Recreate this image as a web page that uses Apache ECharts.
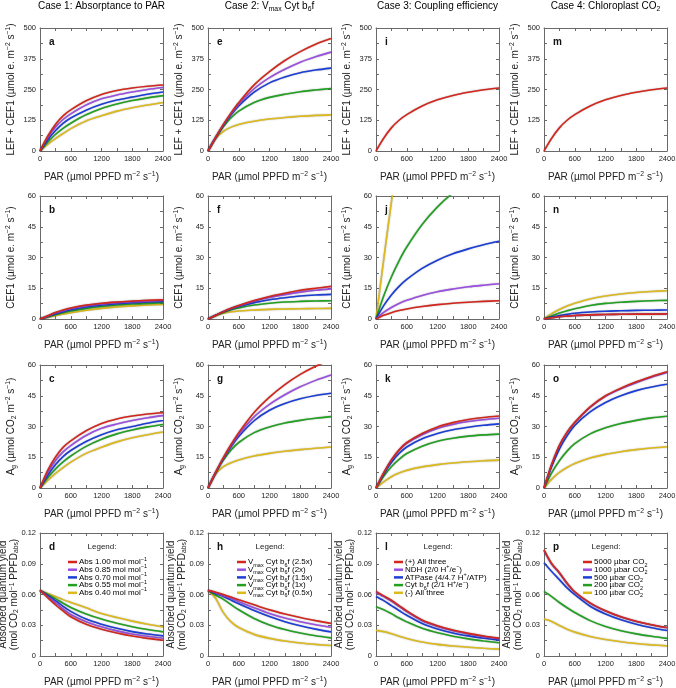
<!DOCTYPE html>
<html>
<head>
<meta charset="utf-8">
<script src="https://cdn.jsdelivr.net/npm/echarts@6/dist/echarts.min.js"></script>
<style>
  html, body { margin: 0; padding: 0; background: #fff; }
  #chart { width: 676px; height: 688px; }
</style>
</head>
<body>
<div id="chart"></div>
<script>
// PAR levels (umol PPFD m-2 s-1) the curves were read at
const PAR = [0, 150, 300, 450, 600, 900, 1200, 1500, 1800, 2100, 2400];

// every panel: curves in order red, purple, blue, green, yellow
const aLEF = [
  [0, 60, 108, 143, 167, 204, 230, 246, 256, 263, 268],
  [0, 54, 97, 128, 151, 187, 212, 228, 240, 250, 258],
  [0, 45, 82, 112, 134, 166, 190, 207, 219, 231, 240],
  [0, 36, 67, 92, 113, 147, 173, 191, 205, 216, 225],
  [0, 27, 50, 71, 91, 122, 143, 162, 176, 187, 197]
];
const bCEF = [
  [0, 1.6, 3.2, 4.4, 5.4, 6.8, 7.7, 8.3, 8.8, 9.1, 9.4],
  [0, 1.4, 2.9, 4.0, 5.0, 6.4, 7.3, 7.9, 8.4, 8.7, 9.0],
  [0, 1.2, 2.5, 3.6, 4.5, 5.9, 6.8, 7.5, 8.0, 8.3, 8.6],
  [0, 1.0, 2.1, 3.1, 3.9, 5.2, 6.1, 6.8, 7.3, 7.6, 7.9],
  [0, 0.8, 1.6, 2.4, 3.1, 4.3, 5.2, 5.9, 6.4, 6.8, 7.1]
];
const cAg = [
  [0, 8.6, 15.0, 19.8, 23.0, 27.9, 31.5, 33.7, 35.1, 36.1, 36.7],
  [0, 7.4, 13.3, 17.6, 20.7, 25.6, 29.1, 31.2, 32.9, 34.3, 35.3],
  [0, 6.2, 11.3, 15.3, 18.3, 22.7, 26.0, 28.4, 30.0, 31.6, 32.9],
  [0, 5.0, 9.2, 12.7, 15.6, 20.3, 23.8, 26.4, 28.3, 29.8, 31.0],
  [0, 3.7, 7.0, 9.9, 12.6, 16.9, 19.9, 22.5, 24.5, 26.0, 27.3]
];
const dQY = [
  [0.064, 0.057, 0.050, 0.044, 0.0383, 0.031, 0.0262, 0.0225, 0.0195, 0.0172, 0.0153],
  [0.064, 0.058, 0.052, 0.046, 0.0405, 0.0335, 0.0285, 0.0245, 0.0215, 0.0192, 0.0173],
  [0.064, 0.059, 0.054, 0.0485, 0.0435, 0.036, 0.031, 0.027, 0.0238, 0.0215, 0.0196],
  [0.064, 0.060, 0.056, 0.0515, 0.0474, 0.041, 0.036, 0.032, 0.0286, 0.0258, 0.0235],
  [0.064, 0.061, 0.058, 0.055, 0.0523, 0.047, 0.0415, 0.0375, 0.034, 0.031, 0.0284]
];
const eLEF = [
  [0, 55, 108, 155, 197, 269, 323, 368, 404, 434, 457],
  [0, 55, 106, 151, 190, 253, 298, 332, 361, 383, 402],
  [0, 55, 104, 147, 183, 239, 277, 301, 318, 329, 337],
  [0, 53, 99, 135, 162, 197, 218, 231, 241, 248, 254],
  [0, 51, 80, 97, 108, 121, 130, 136, 141, 145, 147]
];
const fCEF = [
  [0, 1.8, 3.6, 5.2, 6.6, 9.0, 11.0, 12.6, 14.0, 15.0, 15.9],
  [0, 1.8, 3.6, 5.1, 6.4, 8.7, 10.5, 11.9, 13.1, 14.0, 14.7],
  [0, 1.8, 3.5, 4.9, 6.1, 8.0, 9.4, 10.4, 11.2, 11.7, 12.0],
  [0, 1.7, 3.3, 4.5, 5.4, 6.8, 7.7, 8.3, 8.6, 8.8, 8.9],
  [0, 1.6, 2.8, 3.5, 3.9, 4.4, 4.7, 4.9, 5.0, 5.1, 5.2]
];
const gAg = [
  [0, 7.6, 14.8, 21.2, 27.0, 36.8, 44.3, 50.4, 55.4, 59.4, 62.6],
  [0, 7.6, 14.5, 20.7, 26.1, 34.7, 40.8, 45.5, 49.4, 52.5, 55.1],
  [0, 7.5, 14.3, 20.1, 25.1, 32.8, 37.9, 41.2, 43.5, 45.1, 46.2],
  [0, 7.3, 13.6, 18.5, 22.2, 27.0, 29.8, 31.7, 33.0, 34.0, 34.8],
  [0, 6.9, 10.4, 12.3, 13.7, 15.6, 16.9, 17.9, 18.7, 19.4, 20.0]
];
const hQY = [
  [0.064, 0.0622, 0.0600, 0.0575, 0.0549, 0.0499, 0.0450, 0.0410, 0.0375, 0.0345, 0.0318],
  [0.064, 0.0618, 0.0589, 0.0561, 0.0530, 0.0470, 0.0415, 0.0370, 0.0335, 0.0305, 0.0280],
  [0.064, 0.0610, 0.0581, 0.0545, 0.0510, 0.0444, 0.0385, 0.0335, 0.0295, 0.0262, 0.0235],
  [0.064, 0.0593, 0.0553, 0.0501, 0.0451, 0.0366, 0.0303, 0.0258, 0.0224, 0.0197, 0.0177],
  [0.064, 0.0561, 0.0423, 0.0333, 0.0278, 0.0211, 0.0172, 0.0146, 0.0127, 0.0113, 0.0102]
];
// case 3 and 4 electron flow: all curves sit on top of each other
const iLEF = [[0, 52, 94, 125, 148, 183, 208, 226, 239, 249, 256]];
const jCEF = [
  [0, 1.8, 3.1, 4.1, 4.9, 6.1, 7.0, 7.7, 8.2, 8.6, 8.9],
  [0, 3.2, 5.6, 7.6, 9.1, 11.5, 13.3, 14.6, 15.7, 16.5, 17.2],
  [0, 6.5, 11.7, 15.9, 19.3, 24.7, 28.7, 31.8, 34.2, 36.2, 37.9],
  [0, 11.2, 20.5, 28.4, 35.1, 46.1, 54.7, 61.5, 67.0],
  [0, 29, 57, 84]
];
const kAg = [
  [0, 7.4, 13.7, 18.6, 22.2, 26.6, 29.8, 31.9, 33.4, 34.4, 35.1],
  [0, 7.3, 13.5, 18.3, 21.8, 26.0, 29.0, 31.0, 32.4, 33.3, 34.0],
  [0, 6.8, 12.4, 16.8, 20.0, 24.0, 26.6, 28.4, 29.6, 30.6, 31.3],
  [0, 5.7, 10.4, 14.0, 16.8, 20.4, 22.8, 24.3, 25.3, 25.9, 26.3],
  [0, 3.0, 5.5, 7.3, 8.6, 10.3, 11.4, 12.2, 12.8, 13.3, 13.6]
];
const lQY = [
  [0.063, 0.0587, 0.0544, 0.0492, 0.0440, 0.0352, 0.0296, 0.0253, 0.0221, 0.0195, 0.0174],
  [0.062, 0.0579, 0.0536, 0.0484, 0.0433, 0.0344, 0.0288, 0.0246, 0.0214, 0.0189, 0.0169],
  [0.058, 0.0540, 0.0492, 0.0444, 0.0397, 0.0317, 0.0264, 0.0225, 0.0196, 0.0173, 0.0155],
  [0.048, 0.0452, 0.0413, 0.0370, 0.0333, 0.0270, 0.0226, 0.0193, 0.0167, 0.0147, 0.0130],
  [0.025, 0.0238, 0.0218, 0.0193, 0.0171, 0.0136, 0.0113, 0.0097, 0.0085, 0.0075, 0.0067]
];
const mLEF = [[0, 52, 94, 125, 148, 183, 208, 226, 239, 249, 256]];
const nCEF = [
  [0, 0.6, 1.1, 1.4, 1.7, 2.0, 2.2, 2.3, 2.4, 2.4, 2.5],
  [0, 0.6, 1.1, 1.4, 1.7, 2.0, 2.2, 2.3, 2.4, 2.4, 2.5],
  [0, 0.9, 1.7, 2.3, 2.8, 3.4, 3.8, 4.0, 4.2, 4.3, 4.4],
  [0, 1.5, 2.9, 4.0, 5.0, 6.6, 7.6, 8.2, 8.6, 8.9, 9.1],
  [0, 2.6, 4.6, 6.3, 7.7, 9.8, 11.2, 12.2, 12.9, 13.4, 13.8]
];
const oAg = [
  [0, 11.5, 20.8, 27.2, 32.0, 39.6, 45.0, 48.7, 51.8, 54.4, 56.7],
  [0, 11.4, 20.6, 27.0, 31.8, 39.3, 44.7, 48.4, 51.4, 54.0, 56.3],
  [0, 10.5, 19.0, 25.4, 30.5, 37.1, 41.7, 45.0, 47.5, 49.3, 50.6],
  [0, 7.4, 13.3, 18.0, 21.6, 26.4, 29.4, 31.5, 33.0, 34.2, 35.0],
  [0, 4.3, 7.6, 10.0, 11.9, 14.6, 16.4, 17.7, 18.7, 19.5, 20.1]
];
const pQY = [
  [0.1035, 0.0902, 0.0815, 0.0712, 0.0627, 0.0518, 0.0441, 0.0382, 0.0339, 0.0305, 0.0278],
  [0.1030, 0.0894, 0.0808, 0.0706, 0.0624, 0.0514, 0.0438, 0.0380, 0.0336, 0.0303, 0.0276],
  [0.0910, 0.0824, 0.0745, 0.0664, 0.0598, 0.0485, 0.0409, 0.0353, 0.0310, 0.0276, 0.0248],
  [0.0630, 0.0580, 0.0522, 0.0471, 0.0424, 0.0345, 0.0288, 0.0247, 0.0216, 0.0192, 0.0172],
  [0.0360, 0.0337, 0.0298, 0.0261, 0.0233, 0.0191, 0.0161, 0.0139, 0.0122, 0.0109, 0.0099]
];

const panels = [aLEF, bCEF, cAg, dQY, eLEF, fCEF, gAg, hQY, iLEF, jCEF, kAg, lQY, mLEF, nCEF, oAg, pQY];
const letters = ['a','b','c','d','e','f','g','h','i','j','k','l','m','n','o','p'];

const yMax = [500, 60, 60, 0.12];
const yStep = [125, 15, 15, 0.03];

const caseTitles = [
  '{t|Case 1: Absorptance to PAR}',
  '{t|Case 2: V}{sub|max}{t| Cyt b}{sub|6}{t|f}',
  '{t|Case 3: Coupling efficiency}',
  '{t|Case 4: Chloroplast CO}{sub|2}'
];
const legendTexts = [
  ['{t|Abs 1.00 mol mol}{sup|−1}', '{t|Abs 0.85 mol mol}{sup|−1}', '{t|Abs 0.70 mol mol}{sup|−1}',
   '{t|Abs 0.55 mol mol}{sup|−1}', '{t|Abs 0.40 mol mol}{sup|−1}'],
  ['{t|V}{sub|max}{t| Cyt b}{sub|6}{t|f (2.5x)}', '{t|V}{sub|max}{t| Cyt b}{sub|6}{t|f (2x)}',
   '{t|V}{sub|max}{t| Cyt b}{sub|6}{t|f (1.5x)}', '{t|V}{sub|max}{t| Cyt b}{sub|6}{t|f (1x)}',
   '{t|V}{sub|max}{t| Cyt b}{sub|6}{t|f (0.5x)}'],
  ['{t|(+) All three}', '{t|NDH (2/0 H}{sup|+}{t|/e}{sup|−}{t|)}', '{t|ATPase (4/4.7 H}{sup|+}{t|/ATP)}',
   '{t|Cyt b}{sub|6}{t|f (2/1 H}{sup|+}{t|/e}{sup|−}{t|)}', '{t|(-) All three}'],
  ['{t|5000 µbar CO}{sub|2}', '{t|1000 µbar CO}{sub|2}', '{t|500 µbar CO}{sub|2}',
   '{t|200 µbar CO}{sub|2}', '{t|100 µbar CO}{sub|2}']
];
const yNames = [
  '{t|LEF + CEF1 (µmol e. m}{sup|−2}{t| s}{sup|−1}{t|)}',
  '{t|CEF1 (µmol e. m}{sup|−2}{t| s}{sup|−1}{t|)}',
  '{t|A}{sub|g}{t| (µmol CO}{sub|2}{t| m}{sup|−2}{t| s}{sup|−1}{t|)}',
  '{t|Absorbed quantum yield}\n{t|(mol CO}{sub|2}{t| mol}{sup|−1}{t| PPFD}{sub|abs}{t|)}'
];
const xName = '{t|PAR (µmol PPFD m}{sup|−2}{t| s}{sup|−1}{t|)}';

const COLORS = ['#d3261c', '#9a4fe0', '#1b3ed6', '#22a022', '#dcba1c'];
const FONT = 'Liberation Sans, Arial, sans-serif';
const LEFTS = [40, 208, 376, 544];
const TOPS = [28, 196, 365, 533];
const SIZE = 123;

const richFor = (size, lh) => ({
  t: { fontSize: size, fontFamily: FONT, color: '#222', lineHeight: lh || size + 3 },
  sup: { fontSize: size * 0.68, fontFamily: FONT, color: '#222', verticalAlign: 'top', lineHeight: size * 0.7 },
  sub: { fontSize: size * 0.68, fontFamily: FONT, color: '#222', verticalAlign: 'bottom', lineHeight: size * 0.7 }
});

const grids = [], xAxes = [], yAxes = [], series = [], graphics = [];
const axisLine = { show: true, onZero: false, lineStyle: { color: '#6a6a6a', width: 1 } };
const tick = { show: true, inside: true, length: 3, lineStyle: { color: '#6a6a6a' } };
const minor = { show: true, splitNumber: 2, length: 3, lineStyle: { color: '#6a6a6a' } };

panels.forEach((curves, g) => {
  const col = Math.floor(g / 4), row = g % 4;
  const left = LEFTS[col], top = TOPS[row];
  grids.push({ left, top, width: SIZE, height: SIZE, containLabel: false, outerBoundsMode: 'none' });

  const xBase = { type: 'value', gridIndex: g, min: 0, max: 2400, interval: 600,
    axisLine, axisTick: tick, minorTick: minor, splitLine: { show: false } };
  xAxes.push(Object.assign({}, xBase, {
    position: 'bottom',
    axisLabel: { fontSize: 7.5, color: '#222', fontFamily: FONT, margin: 4, formatter: v => String(v) },
    name: xName, nameLocation: 'middle', nameGap: 20, nameMoveOverlap: false,
    nameTextStyle: { rich: richFor(10) }
  }));
  xAxes.push(Object.assign({}, xBase, { position: 'top', axisLabel: { show: false } }));

  const yBase = { type: 'value', gridIndex: g, min: 0, max: yMax[row], interval: yStep[row],
    axisLine, axisTick: tick, minorTick: minor, splitLine: { show: false } };
  yAxes.push(Object.assign({}, yBase, {
    position: 'left',
    axisLabel: { fontSize: 7.5, color: '#222', fontFamily: FONT, margin: 4 },
    name: yNames[row], nameLocation: 'middle', nameRotate: 90,
    nameGap: row === 3 ? 20 : 22, nameMoveOverlap: false,
    nameTextStyle: { rich: richFor(10, row === 3 ? 11 : 13), align: 'center' }
  }));
  yAxes.push(Object.assign({}, yBase, { position: 'right', axisLabel: { show: false } }));

  // yellow first, red last so red sits on top
  for (let k = curves.length - 1; k >= 0; k--) {
    series.push({
      type: 'line',
      xAxisIndex: 2 * g,
      yAxisIndex: 2 * g,
      data: curves[k].map((v, i) => [PAR[i], v]),
      smooth: 0.3,
      symbol: 'none',
      silent: true,
      lineStyle: { color: COLORS[k], width: 1.6, shadowColor: 'rgba(0,0,0,0.35)', shadowBlur: 1.5 }
    });
  }

  graphics.push({
    type: 'text', left: left + 9, top: top + 9,
    style: { text: letters[g], font: 'bold 10px ' + FONT, fill: '#111' }
  });
});

// case titles
caseTitles.forEach((t, c) => {
  graphics.push({
    type: 'text', x: LEFTS[c] + SIZE / 2, y: 6,
    style: { text: t, rich: richFor(10), align: 'center', verticalAlign: 'middle' }
  });
});

// legends inside the quantum yield panels
const legendOffset = [28, 29, 18, 39];
legendTexts.forEach((items, c) => {
  const left = LEFTS[c], top = TOPS[3];
  graphics.push({
    type: 'text', x: left + 62, y: top + 14,
    style: { text: 'Legend:', font: '8px ' + FONT, fill: '#222', align: 'center', verticalAlign: 'middle' }
  });
  items.forEach((txt, k) => {
    const y = top + 29 + k * 7.7;
    const x0 = left + legendOffset[c];
    graphics.push({
      type: 'line', shape: { x1: x0, y1: y, x2: x0 + 9, y2: y },
      style: { stroke: COLORS[k], lineWidth: 2.5 }
    });
    graphics.push({
      type: 'text', x: x0 + 11, y: y,
      style: { text: txt, rich: richFor(8), verticalAlign: 'middle', align: 'left' }
    });
  });
});

const chart = echarts.init(document.getElementById('chart'));
chart.setOption({
  animation: false,
  backgroundColor: '#fff',
  textStyle: { fontFamily: FONT },
  grid: grids,
  xAxis: xAxes,
  yAxis: yAxes,
  series,
  graphic: graphics
});
</script>
</body>
</html>
